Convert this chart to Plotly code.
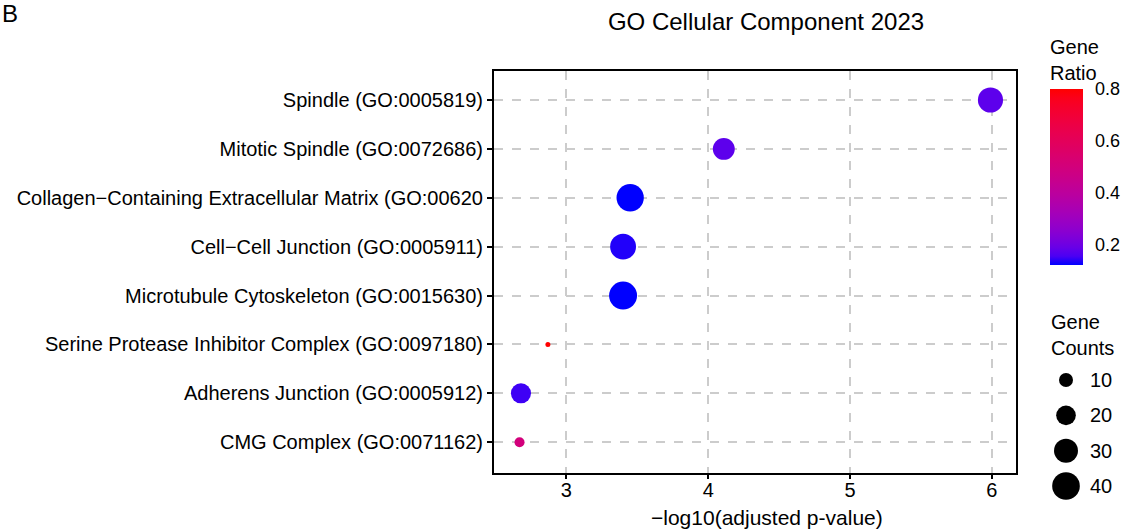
import plotly.graph_objects as go

# ---------------- data ----------------
terms = [
    "Spindle (GO:0005819)",
    "Mitotic Spindle (GO:0072686)",
    "Collagen\u2212Containing Extracellular Matrix (GO:00620",
    "Cell\u2212Cell Junction (GO:0005911)",
    "Microtubule Cytoskeleton (GO:0015630)",
    "Serine Protease Inhibitor Complex (GO:0097180)",
    "Adherens Junction (GO:0005912)",
    "CMG Complex (GO:0071162)",
]
neg_log10_padj = [5.99, 4.11, 3.45, 3.40, 3.40, 2.87, 2.68, 2.67]
gene_counts = [33, 25, 39, 35, 41, 1, 21, 5]
gene_ratio = [0.175, 0.175, 0.12, 0.135, 0.12, 0.80, 0.148, 0.50]
size_legend_values = [10, 20, 30, 40]
ratio_ticks = [0.2, 0.4, 0.6, 0.8]
x_ticks = [3, 4, 5, 6]

# ---------------- scales ----------------
FONT = "Arial, Liberation Sans, sans-serif"
D_MIN, D_MAX = 5.0, 28.0
cmin_v, cmax_v = min(gene_counts), max(gene_counts)


def size_scale(v):
    # area-linear size scale (like ggplot2 scale_size)
    t = (v - cmin_v) / (cmax_v - cmin_v)
    return (D_MIN ** 2 + t * (D_MAX ** 2 - D_MIN ** 2)) ** 0.5


def _srgb_to_lin(c):
    c = c / 255.0
    return c / 12.92 if c <= 0.04045 else ((c + 0.055) / 1.055) ** 2.4


def _lin_to_srgb(c):
    c = max(0.0, min(1.0, c))
    v = 12.92 * c if c <= 0.0031308 else 1.055 * c ** (1 / 2.4) - 0.055
    return int(round(v * 255))


def rgb_to_lab(r, g, b):
    R, G, B = _srgb_to_lin(r), _srgb_to_lin(g), _srgb_to_lin(b)
    X = (0.4124 * R + 0.3576 * G + 0.1805 * B) / 0.95047
    Y = 0.2126 * R + 0.7152 * G + 0.0722 * B
    Z = (0.0193 * R + 0.1192 * G + 0.9505 * B) / 1.08883

    def f(t):
        return t ** (1 / 3) if t > 0.008856 else 7.787 * t + 16 / 116

    fx, fy, fz = f(X), f(Y), f(Z)
    return 116 * fy - 16, 500 * (fx - fy), 200 * (fy - fz)


def lab_to_rgb(L, a, b):
    fy = (L + 16) / 116
    fx = fy + a / 500
    fz = fy - b / 200

    def finv(t):
        return t ** 3 if t ** 3 > 0.008856 else (t - 16 / 116) / 7.787

    X, Y, Z = 0.95047 * finv(fx), finv(fy), 1.08883 * finv(fz)
    R = 3.2406 * X - 1.5372 * Y - 0.4986 * Z
    G = -0.9689 * X + 1.8758 * Y + 0.0415 * Z
    B = 0.0557 * X - 0.2040 * Y + 1.0570 * Z
    return "rgb(%d,%d,%d)" % (_lin_to_srgb(R), _lin_to_srgb(G), _lin_to_srgb(B))


lab_lo = rgb_to_lab(0, 0, 255)
lab_hi = rgb_to_lab(255, 0, 0)
n_stops = 21
colorscale = []
for i in range(n_stops):
    t = i / (n_stops - 1)
    lab = [lo + t * (hi - lo) for lo, hi in zip(lab_lo, lab_hi)]
    colorscale.append([t, lab_to_rgb(*lab)])

# ---------------- layout geometry ----------------
W, H = 1127, 532
ML, MR, MT, MB = 494, 10, 71, 20
PW = W - ML - MR
PH = H - MT - MB


def px_x(p):
    return (p - ML) / PW


def px_y(p):
    return (H - MB - p) / PH


fig = go.Figure()

fig.add_trace(go.Scatter(
    x=neg_log10_padj,
    y=terms,
    mode="markers",
    marker=dict(
        size=[size_scale(v) for v in gene_counts],
        sizemode="diameter",
        color=gene_ratio,
        colorscale=colorscale,
        cmin=min(gene_ratio),
        cmax=max(gene_ratio),
        line=dict(width=0),
        opacity=1,
        colorbar=dict(
            title=dict(text="Gene<br>Ratio", side="top",
                       font=dict(size=20, family=FONT, color="black")),
            x=px_x(1050), xanchor="left",
            y=px_y(36), yanchor="top",
            len=265 - 36, lenmode="pixels",
            thickness=33, thicknessmode="pixels",
            xpad=0, ypad=0, outlinewidth=0,
            tickvals=ratio_ticks,
            ticktext=[str(v) for v in ratio_ticks],
            ticks="outside", tickcolor="white", ticklen=9, tickwidth=1,
            tickfont=dict(size=18, family=FONT, color="black"),
        ),
    ),
    showlegend=False,
    hoverinfo="x+y",
))

# size legend drawn on an auxiliary axis pair
fig.add_trace(go.Scatter(
    x=[0] * len(size_legend_values),
    y=size_legend_values,
    mode="markers",
    marker=dict(size=[size_scale(v) for v in size_legend_values],
                color="black", opacity=1, line=dict(width=0)),
    xaxis="x2", yaxis="y2",
    showlegend=False, hoverinfo="skip",
))

n = len(terms)
fig.update_layout(
    width=W, height=H,
    margin=dict(l=ML, r=MR, t=MT, b=MB, autoexpand=False),
    paper_bgcolor="white", plot_bgcolor="white",
    font=dict(family=FONT, color="black"),
    title=dict(text="GO Cellular Component 2023", x=766 / W, xanchor="center",
               xref="container", y=1 - 22 / H, yanchor="middle",
               font=dict(size=24, family=FONT, color="black")),
    xaxis=dict(
        domain=[0, (1016 - ML) / PW],
        range=[2.49, 6.17],
        tickvals=x_ticks,
        ticks="outside", ticklen=4, tickwidth=1.5, tickcolor="black",
        ticklabelstandoff=-6,
        showline=True, mirror=True, linecolor="black", linewidth=2,
        showgrid=True, gridcolor="#cccccc", gridwidth=1.5, griddash="dash",
        zeroline=False,
        tickfont=dict(size=20, family=FONT, color="black"),
        automargin=False,
    ),
    yaxis=dict(
        domain=[px_y(473), 1],
        type="category",
        categoryorder="array", categoryarray=terms,
        range=[n - 1 + 0.63, -0.593],
        ticks="outside", ticklen=5, tickwidth=1.5, tickcolor="black",
        showline=True, mirror=True, linecolor="black", linewidth=2,
        showgrid=True, gridcolor="#cccccc", gridwidth=1.5, griddash="dash",
        zeroline=False,
        tickfont=dict(size=20, family=FONT, color="black"),
        automargin=False,
    ),
    xaxis2=dict(domain=[px_x(1050), px_x(1082)], range=[-1, 1], anchor="y2",
                visible=False, fixedrange=True),
    yaxis2=dict(domain=[px_y(500), px_y(365)], range=[43.96, 5.75], anchor="x2",
                side="right", tickvals=size_legend_values,
                ticktext=[str(v) for v in size_legend_values],
                ticks="", ticklabelstandoff=7,
                showgrid=False, showline=False, zeroline=False,
                tickfont=dict(size=20, family=FONT, color="black"),
                fixedrange=True),
    annotations=[
        dict(text="\u2212log10(adjusted p-value)", xref="paper", yref="paper",
             x=px_x(767), y=px_y(531), xanchor="center", yanchor="bottom",
             showarrow=False, font=dict(size=21, family=FONT, color="black")),
        dict(text="Gene<br>Counts", xref="paper", yref="paper",
             x=px_x(1049), y=px_y(309), xanchor="left", yanchor="top",
             align="left", showarrow=False,
             font=dict(size=20, family=FONT, color="black")),
        dict(text="B", xref="paper", yref="paper",
             x=px_x(0), y=px_y(-2), xanchor="left", yanchor="top",
             showarrow=False, font=dict(size=24, family=FONT, color="black")),
    ],
)

fig.write_html("out.html")
